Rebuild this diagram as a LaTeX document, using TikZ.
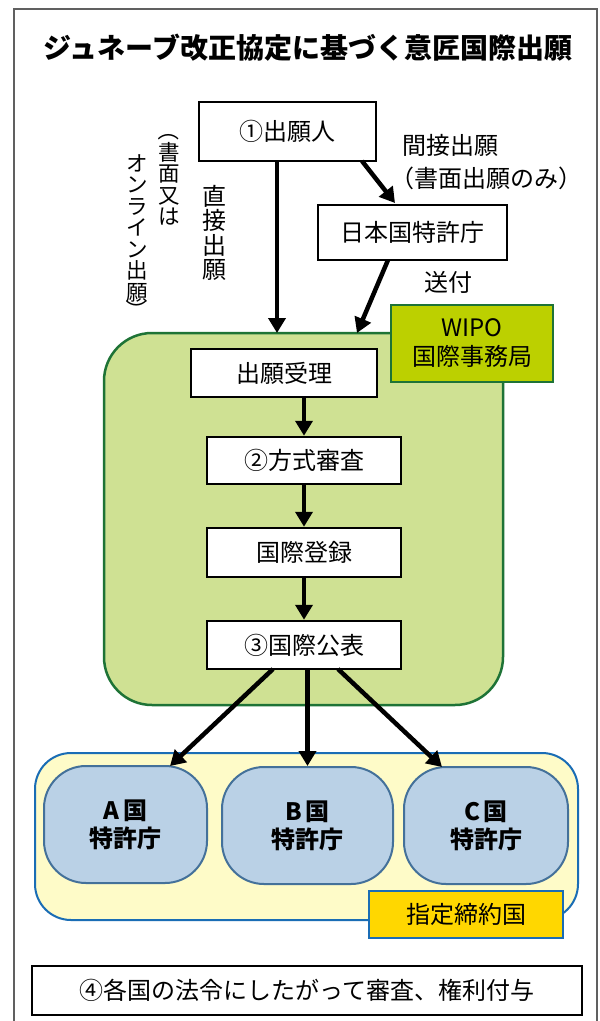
\documentclass[tikz,border=0pt]{standalone}
\usepackage{fontspec}
\setmainfont{Noto Sans CJK JP}
\usetikzlibrary{arrows.meta,calc}
\definecolor{grfill}{HTML}{CFE193}
\definecolor{grdraw}{HTML}{1E7336}
\definecolor{wipofill}{HTML}{BCD000}
\definecolor{yefill}{HTML}{FEFBC8}
\definecolor{bldraw}{HTML}{1A6DB5}
\definecolor{ctfill}{HTML}{BAD1E6}
\definecolor{ctdraw}{HTML}{44719A}
\definecolor{golden}{HTML}{FFD700}
\definecolor{frame}{HTML}{606060}
\begin{document}
\begin{tikzpicture}[x=1pt,y=-1pt,
  box/.style={draw=black,line width=2.5pt,fill=white,font=\fontsize{24}{28}\selectfont,inner sep=0pt},
  arr/.style={line width=4.5pt,-{Triangle[width=17pt,length=15pt]}},
  lbl/.style={font=\fontsize{24}{28}\selectfont,inner sep=0pt},
  vlbl/.style={font=\fontsize{21.5}{21.5}\selectfont,inner sep=0pt,align=center},
  vparen/.style={font=\fontsize{21.5}{21.5}\selectfont,inner sep=0pt,rotate=-90},
  ctry/.style={draw=ctdraw,line width=2pt,fill=ctfill,rounded corners=42pt,inner sep=0pt,align=center,font=\bfseries\fontsize{24}{28}\selectfont}]
\useasboundingbox (0,0) rectangle (600,1021);
\fill[white] (0,0) rectangle (600,1021);
\draw[frame,line width=1.5pt] (14,1030) -- (14,9) -- (597,9) -- (597,1030);
\node[font=\bfseries\fontsize{28}{30}\selectfont,inner sep=0pt] (title) at (308,48) {ジュネーブ改正協定に基づく意匠国際出願};
% applicant and JPO
\node[box,minimum width=177pt,minimum height=59pt] (app) at (287.5,131.5) {①出願人};
\node[box,minimum width=189pt,minimum height=55pt] (jpo) at (412.5,232.5) {日本国特許庁};
\node[lbl] (indir) at (450,145) {間接出願};
\node[lbl] (paper) at (486,178) {（書面出願のみ）};
\node[lbl] (send) at (448,282) {送付};
\node[font=\fontsize{24}{24.5}\selectfont,inner sep=0pt,align=center] (direct) at (214,233) {直\\接\\出\\願};
\node[vlbl] (vcol1) at (169,184) {書\\面\\又\\は};
\node[vparen] (vpo) at (169,130) {（};
\node[vlbl] (vcol2) at (137,228) {オ\\ン\\ラ\\イ\\ン\\出\\願};
\node[vparen] (vpc) at (137,310) {）};
% WIPO area
\node[draw=grdraw,line width=2.5pt,fill=grfill,rounded corners=48pt,minimum width=399pt,minimum height=372pt,inner sep=0pt] (garea) at (303.5,519) {};
\node[draw=grdraw,line width=2.5pt,fill=wipofill,minimum width=162pt,minimum height=77pt,inner sep=0pt,align=center,font=\fontsize{24}{29}\selectfont] (wipo) at (472,343.5) {WIPO\\国際事務局};
\node[box,minimum width=186pt,minimum height=48pt] (recv) at (284,373) {出願受理};
\node[box,minimum width=194pt,minimum height=47pt] (form) at (304,460.5) {②方式審査};
\node[box,minimum width=194pt,minimum height=49pt] (reg) at (304,552.5) {国際登録};
\node[box,minimum width=194pt,minimum height=48pt] (pub) at (304,645) {③国際公表};
% designated area
\node[draw=bldraw,line width=2pt,fill=yefill,rounded corners=36pt,minimum width=543pt,minimum height=167pt,inner sep=0pt] (yarea) at (306.5,836.5) {};
\node[ctry,minimum width=163pt,minimum height=117pt] (ca) at (125.5,824.5) {A\,国\\特許庁};
\node[ctry,minimum width=171pt,minimum height=117pt] (cb) at (307.5,825.5) {B\,国\\特許庁};
\node[ctry,minimum width=164pt,minimum height=117pt] (cc) at (486,825.5) {C\,国\\特許庁};
\node[draw=bldraw,line width=2pt,fill=golden,minimum width=194pt,minimum height=47pt,inner sep=0pt,font=\fontsize{24}{28}\selectfont] (desig) at (466,914.5) {指定締約国};
\node[draw=black,line width=2.5pt,fill=white,minimum width=550pt,minimum height=49pt,inner sep=0pt,font=\fontsize{24}{28}\selectfont] (law) at (307,990.5) {④各国の法令にしたがって審査、権利付与};
% arrows
\coordinate (d1) at (277,333);
\coordinate (i1) at (362,161);
\coordinate (i2) at (395,203);
\coordinate (s1) at (388,260);
\coordinate (s2) at (357,333);
\coordinate (pa) at (273,669);
\coordinate (pc) at (338,669);
\coordinate (ta) at (170,766);
\coordinate (tc) at (442,767);
\draw[arr] (d1 |- app.south) -- (d1);
\draw[arr] (i1) -- (i2);
\draw[arr] (s1) -- (s2);
\draw[arr] (form.north |- recv.south) -- (form.north);
\draw[arr] (form.south) -- (reg.north);
\draw[arr] (reg.south) -- (pub.north);
\draw[arr] (pa) -- (ta);
\draw[arr] (cb.north |- pub.south) -- (cb.north);
\draw[arr] (pc) -- (tc);
\end{tikzpicture}
\end{document}
